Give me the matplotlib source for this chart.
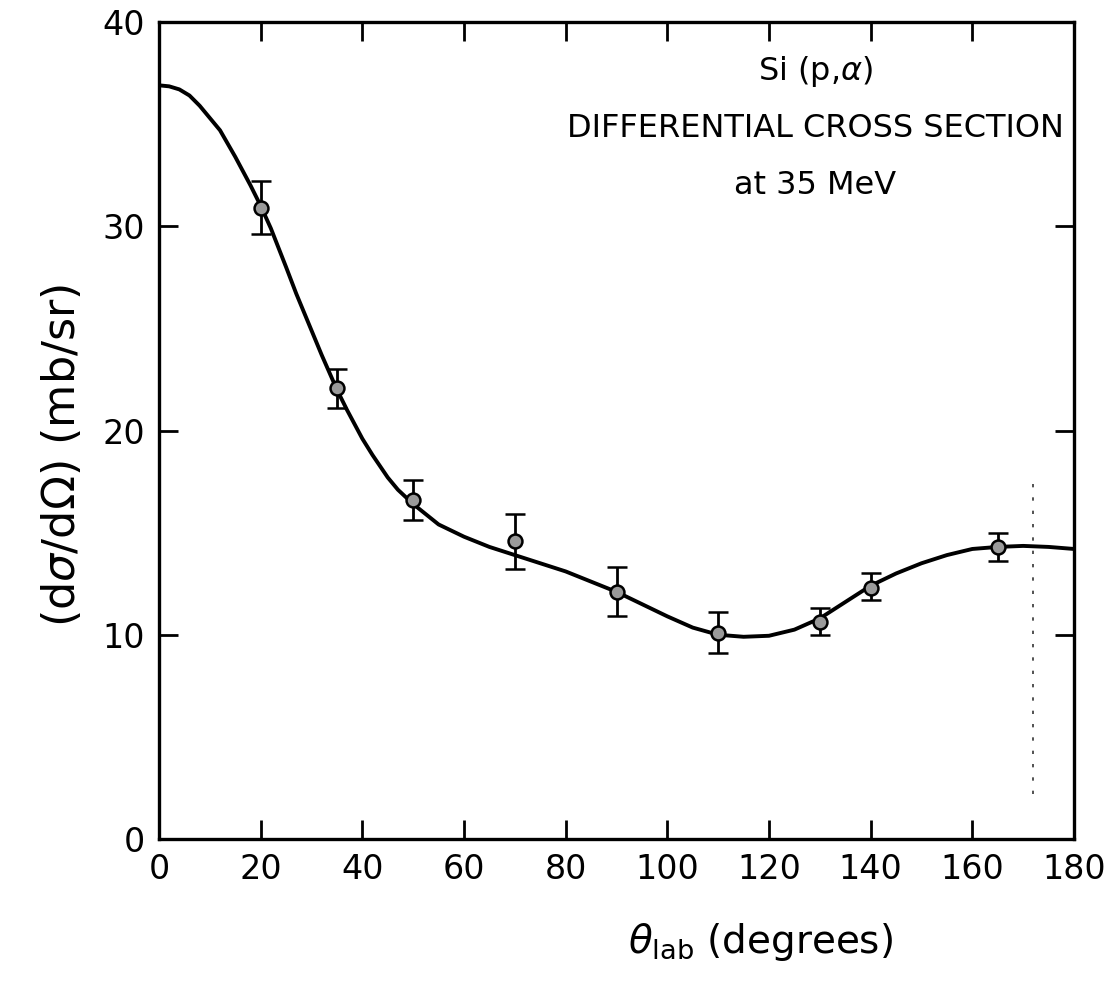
import numpy as np
import matplotlib.pyplot as plt
from matplotlib.ticker import MultipleLocator

# measured points
theta = [20, 35, 50, 70, 90, 110, 130, 140, 165]
xsec = [30.9, 22.1, 16.6, 14.6, 12.1, 10.1, 10.6, 12.3, 14.3]
err_lo = [29.6, 21.1, 15.6, 13.2, 10.9, 9.1, 10.0, 11.7, 13.6]
err_hi = [32.2, 23.0, 17.6, 15.9, 13.3, 11.1, 11.3, 13.0, 15.0]

# fitted curve
fit_theta = [0, 2, 4, 6, 8, 10, 12, 15, 18, 20, 22, 25, 27, 30, 32, 35, 37,
             40, 42, 45, 47, 50, 55, 60, 65, 70, 75, 80, 85, 90, 95, 100, 105,
             110, 115, 120, 125, 130, 135, 140, 145, 150, 155, 160, 165, 170,
             175, 180]
fit_xsec = [36.9, 36.85, 36.7, 36.4, 35.9, 35.3, 34.7, 33.4, 32.0, 31.0, 29.9,
            28.0, 26.7, 24.9, 23.7, 22.0, 21.0, 19.6, 18.8, 17.7, 17.1, 16.4,
            15.4, 14.8, 14.3, 13.9, 13.5, 13.1, 12.6, 12.1, 11.5, 10.9, 10.35,
            10.0, 9.9, 9.95, 10.25, 10.8, 11.6, 12.4, 13.0, 13.5, 13.9, 14.2,
            14.3, 14.35, 14.3, 14.2]

FONT = 'DejaVu Sans'
plt.rcParams['font.family'] = FONT
plt.rcParams['mathtext.fontset'] = 'dejavusans'

fig = plt.figure(figsize=(11.07, 9.86), dpi=100)
ax = fig.add_axes([159/1107, 1 - 839/986, (1074 - 159)/1107, (839 - 22)/986])

ax.plot(fit_theta, fit_xsec, color='black', lw=2.8, zorder=2,
        solid_joinstyle='round')

th = np.array(theta)
y = np.array(xsec)
yerr = [y - np.array(err_lo), np.array(err_hi) - y]
ax.errorbar(th, y, yerr=yerr, fmt='o', ms=10, mfc='#9a9a9a', mec='black',
            mew=1.8, ecolor='black', elinewidth=2, capsize=7, capthick=2,
            zorder=3)

# faint dotted line near the right edge
ax.plot([172, 172], [2.2, 17.5], color='#333333', lw=1.2, ls=(0, (2, 6)), zorder=1)

ax.set_xlim(0, 180)
ax.set_ylim(0, 40)
ax.xaxis.set_major_locator(MultipleLocator(20))
ax.yaxis.set_major_locator(MultipleLocator(10))
ax.tick_params(axis='both', which='major', length=14, width=2, direction='in',
               bottom=True, top=True, left=True, right=True, labelsize=24, pad=10)
for s in ax.spines.values():
    s.set_linewidth(2.4)

ax.set_xticks(range(0, 181, 20))
ax.set_xticklabels(['0', '20', '40', '60', '80', '100', '120', '140', '160', '180'])
ax.set_yticks(range(0, 41, 10))

ax.set_ylabel(r'(d$\sigma$/d$\Omega$) (mb/sr)', fontsize=32)
ax.yaxis.set_label_coords(-0.082, 0.47)
ax.set_xlabel(r'$\theta_{\mathrm{lab}}$ (degrees)', fontsize=28)
ax.xaxis.set_label_coords(0.657, -0.1)

ax.text(0.717, 0.94, r'Si (p,$\alpha$)', transform=ax.transAxes, ha='center',
        va='center', fontsize=23)
ax.text(0.717, 0.87, 'DIFFERENTIAL CROSS SECTION', transform=ax.transAxes,
        ha='center', va='center', fontsize=23)
ax.text(0.717, 0.80, 'at 35 MeV', transform=ax.transAxes, ha='center',
        va='center', fontsize=23)

plt.savefig('out.png', dpi=100)
